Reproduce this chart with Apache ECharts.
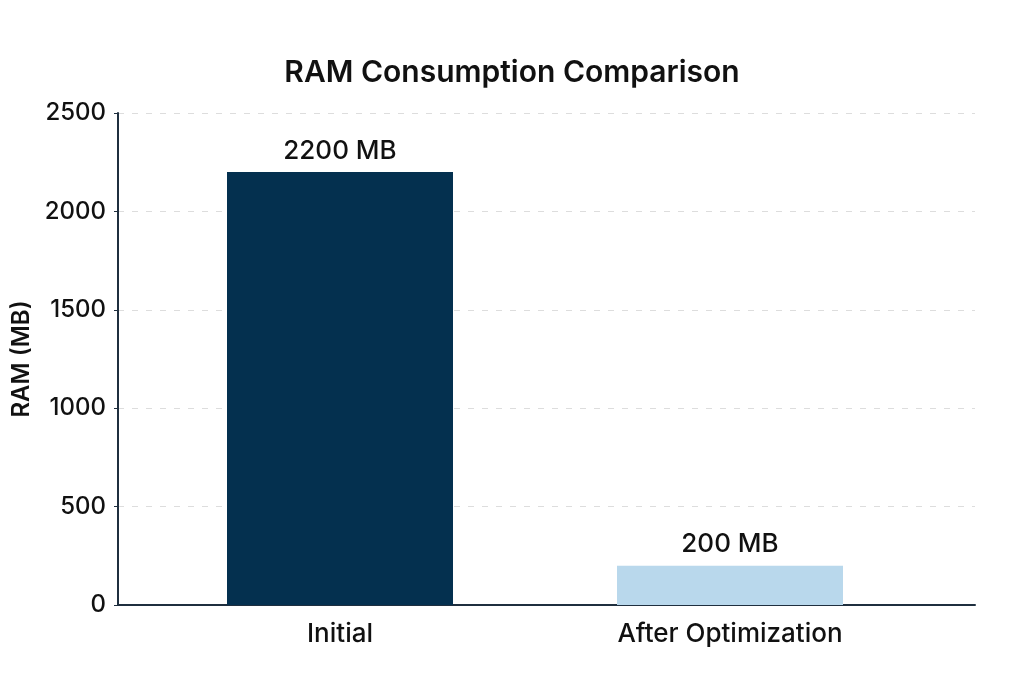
<!DOCTYPE html>
<html>
<head>
<meta charset="utf-8">
<script src="https://cdn.jsdelivr.net/npm/echarts@6/dist/echarts.min.js"></script>
<style>
  html, body { margin: 0; padding: 0; background: #fff; }
  #main { width: 1024px; height: 682px; }
</style>
</head>
<body>
<div id="main"></div>
<script>
"use strict";

var categories = ["Initial", "After Optimization"];
var ramValues = [2200, 200];
var barColors = ["#04304f", "#b9d8ec"];
var yTicks = [0, 500, 1000, 1500, 2000, 2500];

var chartDom = document.getElementById("main");
var myChart = echarts.init(chartDom);
var font = "Inter, 'Noto Sans', sans-serif";
var option;

option = {
  backgroundColor: "#ffffff",
  textStyle: { fontFamily: font },
  title: {
    text: "RAM Consumption Comparison",
    left: "center",
    top: 53,
    textStyle: { fontSize: 30, fontWeight: 600, color: "#111" },
  },
  grid: [
    // frame: y axis, grid lines, base line
    { left: 118, right: 49, top: 113, bottom: 77 },
    // bars
    { left: 145, right: 99, top: 113, bottom: 77 },
  ],
  xAxis: [
    {
      gridIndex: 0,
      type: "value",
      min: 0,
      max: 1,
      axisLine: { show: true, lineStyle: { color: "#1f2f3f", width: 2 } },
      axisTick: { show: false },
      axisLabel: { show: false },
      splitLine: { show: false },
    },
    {
      gridIndex: 1,
      type: "category",
      data: categories,
      axisLine: { show: false },
      axisTick: { show: false },
      axisLabel: { fontSize: 26, fontWeight: 500, color: "#111", margin: 16 },
    },
  ],
  yAxis: [
    {
      gridIndex: 0,
      type: "value",
      min: yTicks[0],
      max: yTicks[yTicks.length - 1],
      interval: 500,
      name: "RAM (MB)",
      nameLocation: "middle",
      nameRotate: 90,
      nameGap: 83,
      nameTextStyle: { fontSize: 24, fontWeight: 600, color: "#111" },
      axisLine: { show: true, lineStyle: { color: "#1f2f3f", width: 2 } },
      axisTick: { show: true, length: 4, lineStyle: { color: "#1f2f3f" } },
      axisLabel: {
        fontSize: 24,
        fontWeight: 500,
        color: "#111",
        margin: 12,
        formatter: function (v) { return String(v); },
      },
      splitLine: {
        show: true,
        lineStyle: { color: "#dddddd", type: [6, 8], width: 1 },
      },
    },
    {
      gridIndex: 1,
      type: "value",
      min: yTicks[0],
      max: yTicks[yTicks.length - 1],
      show: false,
      splitLine: { show: false },
    },
  ],
  series: [
    {
      type: "bar",
      xAxisIndex: 1,
      yAxisIndex: 1,
      barWidth: 226,
      data: ramValues.map(function (v, i) {
        return { value: v, itemStyle: { color: barColors[i] } };
      }),
      label: {
        show: true,
        position: "top",
        distance: 8,
        fontSize: 26,
        fontWeight: 500,
        color: "#111",
        formatter: "{c} MB",
      },
    },
  ],
};

option && myChart.setOption(option);
</script>
</body>
</html>
